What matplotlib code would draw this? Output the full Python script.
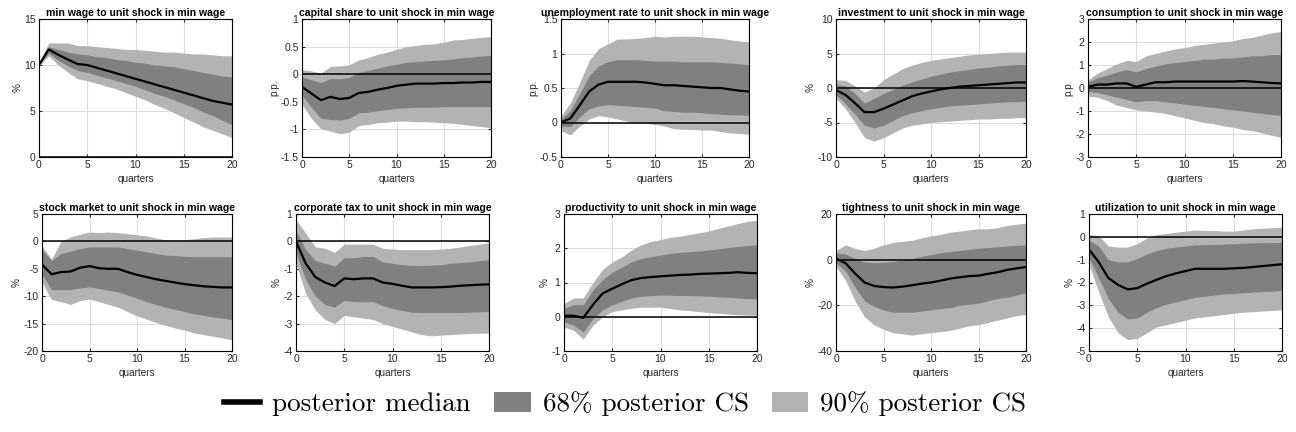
import numpy as np
import matplotlib
matplotlib.use("Agg")
import matplotlib.pyplot as plt
from matplotlib.lines import Line2D
from matplotlib.patches import Patch

plt.rcParams["font.family"] = ["Liberation Sans", "DejaVu Sans"]

quarters = np.arange(21)

# ---- min wage -------------------------------------------------------------
minwage_med = [10.0, 11.7, 11.1, 10.6, 10.1, 10.0, 9.7, 9.4, 9.1, 8.8, 8.5, 8.2, 7.9, 7.6, 7.3, 7.0, 6.7, 6.4, 6.1, 5.9, 5.7]
minwage_hi90 = [10.2, 12.4, 12.4, 12.4, 12.1, 12.1, 12.0, 11.9, 11.8, 11.7, 11.7, 11.6, 11.5, 11.4, 11.4, 11.3, 11.2, 11.2, 11.1, 11.0, 11.0]
minwage_hi68 = [10.1, 12.0, 11.7, 11.4, 11.2, 11.1, 10.9, 10.8, 10.6, 10.5, 10.3, 10.2, 10.0, 9.9, 9.8, 9.6, 9.4, 9.2, 9.0, 8.8, 8.7]
minwage_lo68 = [10.0, 11.3, 10.5, 9.9, 9.4, 9.2, 8.9, 8.6, 8.3, 8.0, 7.7, 7.3, 6.9, 6.6, 6.2, 5.8, 5.4, 4.9, 4.5, 4.0, 3.5]
minwage_lo90 = [9.9, 11.0, 10.0, 9.2, 8.5, 8.3, 8.0, 7.7, 7.4, 7.0, 6.6, 6.2, 5.7, 5.3, 4.8, 4.3, 3.8, 3.3, 2.9, 2.5, 2.1]

# ---- capital share --------------------------------------------------------
capshare_med = [-0.23, -0.35, -0.47, -0.41, -0.45, -0.43, -0.34, -0.32, -0.28, -0.25, -0.21, -0.19, -0.17, -0.17, -0.17, -0.16, -0.16, -0.15, -0.15, -0.14, -0.14]
capshare_hi90 = [0.08, 0.06, 0.02, 0.14, 0.15, 0.17, 0.26, 0.30, 0.36, 0.40, 0.45, 0.50, 0.52, 0.54, 0.55, 0.58, 0.62, 0.63, 0.65, 0.67, 0.68]
capshare_hi68 = [-0.05, -0.10, -0.15, -0.08, -0.08, -0.06, 0.03, 0.07, 0.11, 0.15, 0.18, 0.21, 0.23, 0.24, 0.25, 0.26, 0.28, 0.30, 0.31, 0.33, 0.34]
capshare_lo68 = [-0.38, -0.60, -0.80, -0.82, -0.83, -0.80, -0.70, -0.69, -0.66, -0.64, -0.62, -0.61, -0.60, -0.60, -0.60, -0.59, -0.59, -0.59, -0.59, -0.59, -0.59]
capshare_lo90 = [-0.55, -0.80, -0.99, -1.03, -1.08, -1.05, -0.93, -0.91, -0.88, -0.87, -0.85, -0.85, -0.86, -0.86, -0.87, -0.88, -0.89, -0.91, -0.93, -0.95, -0.97]

# ---- unemployment rate ----------------------------------------------------
unemp_med = [0.0, 0.06, 0.25, 0.45, 0.55, 0.59, 0.59, 0.59, 0.59, 0.58, 0.56, 0.54, 0.54, 0.53, 0.52, 0.51, 0.50, 0.50, 0.48, 0.46, 0.45]
unemp_hi90 = [0.10, 0.28, 0.58, 0.90, 1.07, 1.14, 1.21, 1.21, 1.22, 1.23, 1.25, 1.24, 1.25, 1.25, 1.25, 1.24, 1.23, 1.22, 1.20, 1.18, 1.17]
unemp_hi68 = [0.05, 0.17, 0.42, 0.68, 0.82, 0.88, 0.91, 0.91, 0.91, 0.90, 0.89, 0.89, 0.89, 0.88, 0.88, 0.88, 0.88, 0.87, 0.86, 0.85, 0.84]
unemp_lo68 = [-0.05, -0.06, 0.08, 0.20, 0.24, 0.26, 0.25, 0.24, 0.23, 0.22, 0.21, 0.17, 0.16, 0.15, 0.15, 0.14, 0.13, 0.12, 0.11, 0.11, 0.10]
unemp_lo90 = [-0.12, -0.18, -0.05, 0.05, 0.10, 0.08, 0.05, 0.02, -0.01, -0.01, -0.03, -0.05, -0.09, -0.10, -0.10, -0.11, -0.11, -0.13, -0.15, -0.16, -0.17]

# ---- investment -----------------------------------------------------------
invest_med = [-0.3, -1.0, -2.2, -3.5, -3.5, -3.0, -2.4, -1.8, -1.2, -0.8, -0.5, -0.2, 0.0, 0.2, 0.3, 0.4, 0.5, 0.6, 0.7, 0.8, 0.8]
invest_hi90 = [1.2, 1.1, 0.3, -0.6, 0.0, 1.2, 2.0, 2.8, 3.3, 3.7, 4.0, 4.2, 4.4, 4.6, 4.8, 4.9, 5.0, 5.1, 5.2, 5.2, 5.2]
invest_hi68 = [0.5, 0.3, -0.8, -2.2, -1.5, -0.8, -0.2, 0.4, 0.9, 1.3, 1.7, 2.0, 2.3, 2.5, 2.7, 2.9, 3.0, 3.2, 3.3, 3.4, 3.4]
invest_lo68 = [-1.0, -2.3, -3.8, -5.4, -5.8, -5.4, -4.7, -4.0, -3.6, -3.3, -3.0, -2.8, -2.6, -2.5, -2.4, -2.3, -2.2, -2.1, -2.0, -2.0, -1.9]
invest_lo90 = [-1.5, -3.0, -5.0, -7.2, -7.7, -7.2, -6.5, -5.8, -5.4, -5.2, -5.0, -4.9, -4.8, -4.7, -4.6, -4.5, -4.5, -4.4, -4.4, -4.3, -4.3]

# ---- consumption ----------------------------------------------------------
consum_med = [0.05, 0.15, 0.15, 0.20, 0.20, 0.05, 0.15, 0.25, 0.25, 0.28, 0.28, 0.28, 0.28, 0.28, 0.28, 0.28, 0.30, 0.28, 0.25, 0.22, 0.20]
consum_hi90 = [0.35, 0.65, 0.85, 1.05, 1.20, 1.15, 1.40, 1.50, 1.60, 1.70, 1.75, 1.85, 1.90, 1.95, 2.00, 2.05, 2.15, 2.20, 2.30, 2.40, 2.45]
consum_hi68 = [0.25, 0.45, 0.55, 0.70, 0.80, 0.70, 0.85, 0.95, 1.05, 1.10, 1.15, 1.20, 1.25, 1.25, 1.30, 1.30, 1.35, 1.40, 1.40, 1.45, 1.45]
consum_lo68 = [-0.15, -0.20, -0.30, -0.40, -0.50, -0.60, -0.55, -0.55, -0.60, -0.65, -0.70, -0.75, -0.80, -0.85, -0.90, -0.95, -1.00, -1.05, -1.10, -1.15, -1.20]
consum_lo90 = [-0.35, -0.40, -0.55, -0.75, -0.85, -0.95, -1.00, -1.05, -1.10, -1.20, -1.30, -1.40, -1.50, -1.55, -1.65, -1.70, -1.80, -1.85, -1.95, -2.05, -2.15]

# ---- stock market ---------------------------------------------------------
stock_med = [-4.2, -6.0, -5.6, -5.5, -4.8, -4.5, -4.9, -5.0, -5.0, -5.6, -6.1, -6.5, -6.9, -7.2, -7.5, -7.8, -8.0, -8.2, -8.3, -8.4, -8.4]
stock_hi90 = [-0.8, -3.2, 0.0, 0.8, 1.3, 1.7, 1.6, 1.7, 1.6, 1.4, 1.2, 1.0, 0.6, 0.3, 0.3, 0.3, 0.5, 0.7, 0.8, 0.8, 0.8]
stock_hi68 = [-1.5, -3.5, -2.2, -1.8, -1.3, -1.0, -1.0, -1.0, -1.0, -1.3, -1.6, -1.9, -2.2, -2.5, -2.6, -2.7, -2.8, -2.8, -2.8, -2.8, -2.8]
stock_lo68 = [-6.0, -8.8, -8.8, -8.8, -8.5, -8.3, -8.6, -8.9, -9.2, -9.8, -10.4, -11.0, -11.5, -12.0, -12.4, -12.8, -13.2, -13.5, -13.8, -14.0, -14.3]
stock_lo90 = [-7.5, -10.6, -11.0, -11.5, -10.8, -10.5, -11.0, -11.5, -12.0, -12.8, -13.6, -14.2, -14.8, -15.3, -15.8, -16.2, -16.7, -17.0, -17.3, -17.6, -18.0]

# ---- corporate tax --------------------------------------------------------
corptax_med = [0.0, -0.8, -1.3, -1.5, -1.63, -1.35, -1.38, -1.35, -1.35, -1.5, -1.55, -1.62, -1.68, -1.68, -1.68, -1.67, -1.65, -1.62, -1.6, -1.58, -1.57]
corptax_hi90 = [0.8, 0.3, -0.2, -0.25, -0.4, -0.1, -0.1, -0.1, -0.1, -0.25, -0.28, -0.3, -0.3, -0.3, -0.3, -0.28, -0.25, -0.2, -0.15, -0.1, -0.05]
corptax_hi68 = [0.4, -0.3, -0.7, -0.8, -0.9, -0.6, -0.6, -0.55, -0.55, -0.75, -0.8, -0.85, -0.88, -0.88, -0.87, -0.85, -0.8, -0.78, -0.75, -0.7, -0.67]
corptax_lo68 = [-0.4, -1.4, -2.0, -2.3, -2.4, -2.15, -2.2, -2.2, -2.2, -2.35, -2.45, -2.52, -2.58, -2.6, -2.6, -2.6, -2.6, -2.6, -2.58, -2.57, -2.55]
corptax_lo90 = [-0.8, -1.9, -2.5, -2.85, -3.0, -2.7, -2.75, -2.8, -2.85, -3.0, -3.1, -3.2, -3.3, -3.4, -3.45, -3.42, -3.4, -3.38, -3.36, -3.35, -3.35]

# ---- productivity ---------------------------------------------------------
prod_med = [0.03, 0.03, -0.03, 0.35, 0.68, 0.82, 0.95, 1.07, 1.13, 1.16, 1.18, 1.2, 1.22, 1.23, 1.25, 1.26, 1.27, 1.28, 1.30, 1.28, 1.27]
prod_hi90 = [0.38, 0.55, 0.55, 1.0, 1.38, 1.6, 1.75, 1.95, 2.1, 2.2, 2.25, 2.32, 2.35, 2.4, 2.45, 2.5, 2.58, 2.65, 2.72, 2.78, 2.82]
prod_hi68 = [0.25, 0.35, 0.35, 0.78, 1.08, 1.3, 1.45, 1.6, 1.7, 1.75, 1.8, 1.85, 1.88, 1.9, 1.92, 1.95, 1.98, 2.02, 2.05, 2.08, 2.1]
prod_lo68 = [-0.15, -0.25, -0.45, -0.05, 0.2, 0.35, 0.45, 0.55, 0.6, 0.62, 0.63, 0.63, 0.62, 0.62, 0.61, 0.6, 0.58, 0.57, 0.55, 0.53, 0.52]
prod_lo90 = [-0.3, -0.4, -0.65, -0.25, 0.0, 0.15, 0.2, 0.25, 0.28, 0.28, 0.28, 0.24, 0.2, 0.18, 0.15, 0.12, 0.1, 0.08, 0.06, 0.05, 0.04]

# ---- tightness ------------------------------------------------------------
tight_med = [0.5, -1.5, -6, -10, -11.5, -12, -12.2, -11.8, -11.2, -10.5, -10, -9.2, -8.3, -7.7, -7.2, -7, -6.2, -5.5, -4.5, -3.8, -3.2]
tight_hi90 = [4, 6.5, 5, 4, 5, 6.5, 7.5, 8, 8.5, 9.5, 10.5, 11, 12, 12.5, 13, 13.5, 13.5, 14, 15, 15.5, 16]
tight_hi68 = [3, 2.5, 0.5, -1, -1.3, -1.2, -0.8, 0, 0.5, 1.5, 2.2, 3, 3.5, 4, 4.5, 5, 5.3, 5.6, 6, 6.3, 6.5]
tight_lo68 = [-1.5, -5, -12, -18, -20.5, -22, -23, -23, -23, -22.5, -22, -21.5, -21, -20, -19.5, -19, -18, -17, -16.5, -15.5, -14.5]
tight_lo90 = [-3, -9, -18, -25, -28.5, -30.5, -32, -32.5, -33, -32.5, -32, -31.5, -31, -30, -29, -28.5, -27.5, -26.5, -25.5, -24.5, -24]

# ---- utilization ----------------------------------------------------------
util_med = [-0.55, -1.1, -1.8, -2.1, -2.3, -2.25, -2.05, -1.88, -1.72, -1.6, -1.5, -1.4, -1.4, -1.4, -1.4, -1.38, -1.36, -1.32, -1.28, -1.24, -1.2]
util_hi90 = [0.1, 0.05, -0.4, -0.45, -0.45, -0.3, -0.05, 0.1, 0.15, 0.2, 0.25, 0.3, 0.28, 0.28, 0.25, 0.25, 0.3, 0.35, 0.38, 0.4, 0.42]
util_hi68 = [-0.15, -0.4, -1.0, -1.1, -1.1, -0.95, -0.75, -0.6, -0.5, -0.45, -0.4, -0.35, -0.35, -0.33, -0.32, -0.3, -0.28, -0.27, -0.26, -0.25, -0.25]
util_lo68 = [-0.9, -1.8, -2.7, -3.3, -3.6, -3.55, -3.3, -3.1, -2.95, -2.85, -2.75, -2.65, -2.6, -2.55, -2.5, -2.48, -2.45, -2.42, -2.4, -2.38, -2.35]
util_lo90 = [-1.2, -2.4, -3.5, -4.2, -4.5, -4.45, -4.2, -3.95, -3.85, -3.75, -3.65, -3.55, -3.5, -3.45, -3.4, -3.35, -3.3, -3.28, -3.25, -3.22, -3.2]

titles = ["min wage", "capital share", "unemployment rate", "investment", "consumption",
          "stock market", "corporate tax", "productivity", "tightness", "utilization"]
units = ["%", "p.p.", "p.p.", "%", "p.p.", "%", "%", "%", "%", "%"]
yticks = [[0, 5, 10, 15], [-1.5, -1, -0.5, 0, 0.5, 1], [-0.5, 0, 0.5, 1, 1.5], [-10, -5, 0, 5, 10],
          [-3, -2, -1, 0, 1, 2, 3], [-20, -15, -10, -5, 0, 5], [-4, -3, -2, -1, 0, 1],
          [-1, 0, 1, 2, 3], [-40, -20, 0, 20], [-5, -4, -3, -2, -1, 0, 1]]

series = [
    (minwage_med, minwage_lo90, minwage_hi90, minwage_lo68, minwage_hi68),
    (capshare_med, capshare_lo90, capshare_hi90, capshare_lo68, capshare_hi68),
    (unemp_med, unemp_lo90, unemp_hi90, unemp_lo68, unemp_hi68),
    (invest_med, invest_lo90, invest_hi90, invest_lo68, invest_hi68),
    (consum_med, consum_lo90, consum_hi90, consum_lo68, consum_hi68),
    (stock_med, stock_lo90, stock_hi90, stock_lo68, stock_hi68),
    (corptax_med, corptax_lo90, corptax_hi90, corptax_lo68, corptax_hi68),
    (prod_med, prod_lo90, prod_hi90, prod_lo68, prod_hi68),
    (tight_med, tight_lo90, tight_hi90, tight_lo68, tight_hi68),
    (util_med, util_lo90, util_hi90, util_lo68, util_hi68),
]

# axes boxes in pixels (left, right, top, bottom) on a 1296x432 canvas
W, H = 1296, 432
boxes = [(39, 232, 19, 157), (302, 491, 19, 157), (561, 749, 19, 157), (836, 1026, 19, 157), (1088, 1281, 19, 157),
         (42, 232, 214, 351), (296, 489, 214, 351), (564, 757, 214, 351), (836, 1026, 214, 351), (1089, 1282, 214, 351)]

C68 = "#808080"
C90 = "#b3b3b3"

fig = plt.figure(figsize=(W / 100, H / 100), dpi=100)
for k, (l, r, t, b) in enumerate(boxes):
    ax = fig.add_axes([l / W, 1 - b / H, (r - l) / W, (b - t) / H])
    med, lo90, hi90, lo68, hi68 = series[k]
    ax.fill_between(quarters, lo90, hi90, color=C90, linewidth=0, zorder=1)
    ax.fill_between(quarters, lo68, hi68, color=C68, linewidth=0, zorder=2)
    ax.axhline(0, color="black", linewidth=1.1, zorder=3)
    ax.plot(quarters, med, color="black", linewidth=1.6, zorder=4)
    ax.set_xlim(0, 20)
    ax.set_xticks([0, 5, 10, 15, 20])
    yt = yticks[k]
    ax.set_ylim(yt[0], yt[-1])
    ax.set_yticks(yt)
    ax.set_yticklabels([f"{v:g}" for v in yt])
    ax.grid(True, color="#dcdcdc", linewidth=0.8, zorder=0)
    ax.set_axisbelow(True)
    ax.tick_params(direction="in", length=2.5, labelsize=7.5, colors="#262626", pad=2.5,
                   top=True, right=True)
    for s in ax.spines.values():
        s.set_linewidth(0.8)
    ax.set_title(f"{titles[k]} to unit shock in min wage", fontsize=7.6, fontweight="bold", pad=2.5)
    ax.set_xlabel("quarters", fontsize=7.2, color="#262626", labelpad=2.5)
    ax.set_ylabel(units[k], fontsize=7.2, color="#262626", labelpad=1)

handles = [Line2D([0], [0], color="black", linewidth=4),
           Patch(facecolor=C68, edgecolor="none"),
           Patch(facecolor=C90, edgecolor="none")]
fig.legend(handles, ["posterior median", "68% posterior CS", "90% posterior CS"],
           loc="center", bbox_to_anchor=(625 / W, 1 - 404 / H), ncol=3, frameon=False,
           prop={"family": "cmr10", "size": 19.5}, handlelength=1.35, handleheight=0.75,
           columnspacing=0.85, handletextpad=0.45, borderpad=0.1)

fig.savefig("out.png", dpi=100)
